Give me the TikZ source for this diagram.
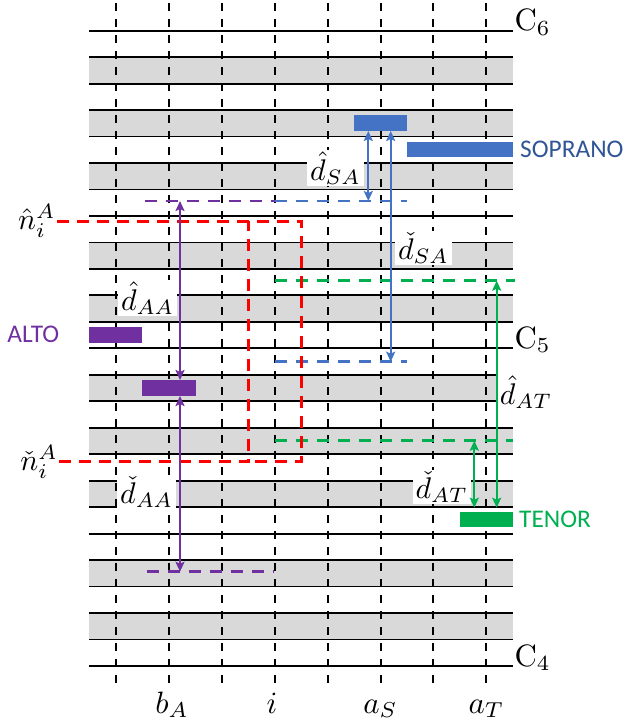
\documentclass[tikz,border=0pt]{standalone}
\usepackage{fontspec}
\newfontfamily\calibri{Carlito}
\usetikzlibrary{arrows.meta}
\definecolor{gband}{RGB}{217,217,217}
\definecolor{sblue}{RGB}{68,114,196}
\definecolor{stext}{RGB}{47,85,151}
\definecolor{apurple}{RGB}{112,48,160}
\definecolor{tgreen}{RGB}{0,176,80}
\definecolor{nred}{RGB}{255,0,0}
\tikzset{
  hline/.style={line width=1.8bp, black},
  vdash/.style={line width=1.9bp, black, dash pattern=on 8bp off 8bp},
  cdash/.style={line width=2.7bp, dash pattern=on 12bp off 9bp},
  rdash/.style={line width=3bp, nred, dash pattern=on 12bp off 8bp},
  arr/.style={line width=2.3bp, {Stealth[length=10bp,width=9bp,inset=2bp]}-{Stealth[length=10bp,width=9bp,inset=2bp]}},
  bar/.style={draw=none, inner sep=0pt, outer sep=0pt},
  dlab/.style={fill=white, inner xsep=1pt, inner ysep=0.4pt, scale=3, font=\fontsize{10}{12}\selectfont},
  nlab/.style={inner sep=0.3pt, scale=3, font=\fontsize{10}{12}\selectfont},
  clab/.style={inner sep=0pt, scale=3.1, font=\fontsize{10}{12}\selectfont},
  vlab/.style={inner sep=0pt, font=\calibri\fontsize{25.5}{30}\selectfont}
}
\begin{document}
\begin{tikzpicture}[x=1bp,y=-1bp]
\useasboundingbox (0,0) rectangle (627,722);
% grey bands
\foreach \k in {1,3,5,8,10,13,15,17,20,22}
  \fill[gband] (89,{30.67+26.47*\k}) rectangle (513,{30.67+26.47*(\k+1)});
% vertical dashed columns
\foreach \xx in {116,169,222,275,328,381,433,486}
  \draw[vdash] (\xx,3) -- (\xx,687);
% horizontal lines
\foreach \k in {0,...,24}
  \draw[hline] (89,{30.67+26.47*\k}) -- (513,{30.67+26.47*\k});
% pitch labels
\node[clab, anchor=base west] (c6) at (514,30.67) {C$_6$};
\node[clab, anchor=base west] (c5) at (514,348.3) {C$_5$};
\node[clab, anchor=base west] (c4) at (514,666) {C$_4$};
% time labels
\node[clab, anchor=base] (lbA) at (172,713) {$b_A$};
\node[clab, anchor=base] (li) at (272,713) {$i$};
\node[clab, anchor=base] (laS) at (380.5,713) {$a_S$};
\node[clab, anchor=base] (laT) at (486.5,713) {$a_T$};
% note bars
\node[bar, fill=sblue, minimum width=53bp, minimum height=16bp] (s1) at (380.7,123) {};
\node[bar, fill=sblue, minimum width=105.8bp, minimum height=15bp] (s2) at (460.1,149.2) {};
\node[bar, fill=apurple, minimum width=53bp, minimum height=16bp] (a1) at (115.5,334.7) {};
\node[bar, fill=apurple, minimum width=53.2bp, minimum height=16bp] (a2) at (168.9,388) {};
\node[bar, fill=tgreen, minimum width=53.2bp, minimum height=15bp] (t1) at (486.4,519.8) {};
% voice labels
\node[vlab, text=stext, anchor=west] (sop) at (520,149.2) {SOPRANO};
\node[vlab, text=apurple, anchor=east] (alt) at (59.5,334.7) {ALTO};
\node[vlab, text=tgreen, anchor=west] (ten) at (519,519.8) {TENOR};
% distance labels
\node[dlab] (lhsa) at (335.5,168) {$\hat{d}_{SA}$};
\node[dlab] (lcsa) at (423.5,248) {$\check{d}_{SA}$};
\node[dlab] (lhaa) at (147.5,298) {$\hat{d}_{AA}$};
\node[dlab] (lcaa) at (146.7,492) {$\check{d}_{AA}$};
\node[dlab] (lcat) at (441.7,487) {$\check{d}_{AT}$};
\node[dlab] (lhat) at (526,392) {$\hat{d}_{AT}$};
% reference dashed lines
\coordinate (pu1) at (145,201);
\coordinate (pu2) at (275,201);
\coordinate (bu2) at (407,201);
\coordinate (bl1) at (275,361.7);
\coordinate (bl2) at (407,361.7);
\coordinate (gu1) at (275,280.7);
\coordinate (gu2) at (515,280.7);
\coordinate (gl1) at (275,440.7);
\coordinate (gl2) at (513,440.7);
\coordinate (pl1) at (146.7,571.7);
\coordinate (pl2) at (274,571.7);
\draw[cdash, apurple] (pu1) -- (pu2);
\draw[cdash, sblue] (pu2) -- (bu2);
\draw[cdash, sblue] (bl1) -- (bl2);
\draw[cdash, tgreen] (gu1) -- (gu2);
\draw[cdash, tgreen] (gl1) -- (gl2);
\draw[cdash, apurple] (pl1) -- (pl2);
% bounds n
\node[nlab, anchor=east] (nh) at (57,221) {$\hat{n}_i^A$};
\node[nlab, anchor=east] (nc) at (59.3,461.7) {$\check{n}_i^A$};
\coordinate (r1) at (301.7,221);
\coordinate (r2) at (301.7,461.7);
\coordinate (r3) at (248.3,461.7);
\coordinate (r4) at (248.3,221);
\draw[rdash] (nh.east) -- (r1) -- (r2) -- (r3);
\draw[rdash] (nc.east) -- (r3) -- (r4);
% arrows
\coordinate (xs1) at (368.3,201);
\coordinate (xs2) at (390.7,361.7);
\coordinate (xa1) at (180,201);
\coordinate (xa2) at (180,571.7);
\coordinate (xt1) at (496.7,280.7);
\coordinate (xt2) at (474.3,440.7);
\coordinate (tt) at (486,507.7);
\draw[arr, sblue] (s1.south -| xs1) -- (xs1);
\draw[arr, sblue] (s1.south -| xs2) -- (xs2);
\draw[arr, apurple] (xa1) -- (a2.north -| xa1);
\draw[arr, apurple] (a2.south -| xa2) -- (xa2);
\draw[arr, tgreen] (xt1) -- (tt -| xt1);
\draw[arr, tgreen] (xt2) -- (tt -| xt2);
\end{tikzpicture}
\end{document}
